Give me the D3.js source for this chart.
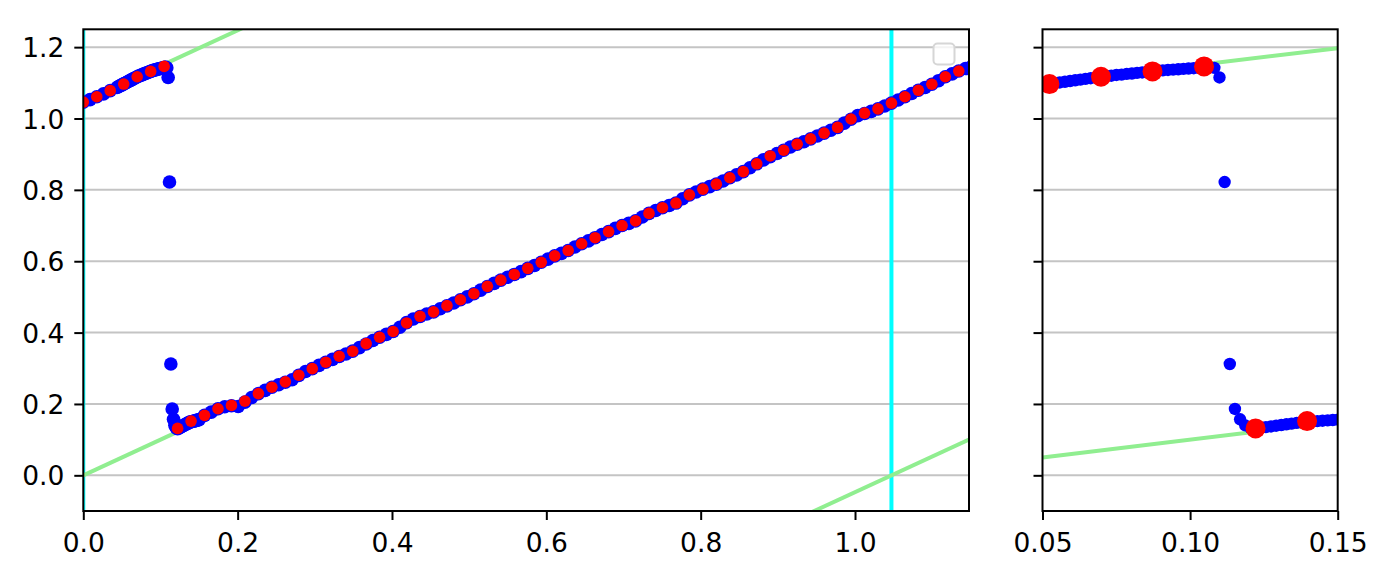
<!DOCTYPE html>
<html><head><meta charset="utf-8">
<script src="https://cdn.jsdelivr.net/npm/d3@7"></script>
<style>body{margin:0;background:#fff}svg{display:block}text{font-family:"DejaVu Sans",sans-serif}</style>
</head><body><svg id="c" width="1389" height="578"></svg>
<script>
// ---- data (x in degrees, converted to radians for plotting) ----
const redDeg = d3.range(0, 66, 1);
const redY = [1.046,1.061,1.078,1.0965,1.117,1.132,1.146,0.1315,0.152,0.168,0.1865,0.196,0.208,0.229,0.247,0.262,0.2806,0.299,0.317,0.3337,0.3477,0.369,0.387,0.403,0.427,0.4456,0.458,0.4755,0.492,0.509,0.5296,0.547,0.563,0.580,0.597,0.615,0.630,0.649,0.666,0.683,0.700,0.713,0.734,0.750,0.763,0.786,0.802,0.816,0.834,0.851,0.873,0.895,0.911,0.928,0.943,0.959,0.975,0.9986,1.015,1.027,1.043,1.061,1.079,1.096,1.117,1.133];

const blueDegA = d3.range(0, 2.55, 0.5);
const blueYA = [1.046,1.053,1.061,1.069,1.078,1.087];
const blueDegB = d3.range(26, 87, 1).map(d => d / 10);
const blueYB = [1.089,1.091,1.093,1.095,1.097,1.099,1.101,1.103,1.105,1.107,1.109,1.111,1.113,1.115,1.117,1.119,1.120,1.122,1.123,1.125,1.126,1.128,1.129,1.131,1.132,1.134,1.135,1.136,1.137,1.138,1.139,1.140,1.141,1.142,1.143,1.144,1.142,1.115,0.822,0.312,0.186,0.157,0.140,0.133,0.131,0.133,0.135,0.137,0.139,0.141,0.143,0.145,0.147,0.149,0.150,0.151,0.152,0.153,0.154,0.155,0.156];
const blueDegC = d3.range(18, 133, 1).map(d => d / 2);
const blueYC = [0.168,0.177,0.1865,0.192,0.195,0.193,0.205,0.218,0.229,0.238,0.247,0.254,0.261,0.268,0.280,0.291,0.299,0.308,0.317,0.325,0.333,0.340,0.348,0.358,0.368,0.378,0.387,0.395,0.403,0.415,0.428,0.438,0.445,0.452,0.458,0.467,0.475,0.483,0.492,0.500,0.509,0.519,0.529,0.538,0.547,0.555,0.563,0.571,0.580,0.588,0.597,0.606,0.615,0.622,0.630,0.640,0.649,0.657,0.666,0.675,0.683,0.692,0.700,0.706,0.713,0.724,0.734,0.742,0.750,0.756,0.763,0.775,0.786,0.794,0.802,0.809,0.816,0.825,0.834,0.842,0.851,0.862,0.873,0.884,0.893,0.902,0.911,0.920,0.928,0.935,0.943,0.951,0.959,0.967,0.975,0.987,0.998,1.008,1.014,1.020,1.027,1.035,1.043,1.052,1.061,1.070,1.079,1.087,1.096,1.106,1.117,1.125,1.133,1.140,1.147];

const guideOffsets = [-Math.PI / 3, 0, Math.PI / 3];   // lines y = x + offset
const vLines = [0, Math.PI / 3];
const yTicks = [0.0, 0.2, 0.4, 0.6, 0.8, 1.0, 1.2];
const xTicksL = [0.0, 0.2, 0.4, 0.6, 0.8, 1.0];
const xTicksR = [0.05, 0.10, 0.15];

const rad = d => d * Math.PI / 180;
const red = redDeg.map((d, i) => [rad(d), redY[i]]);
const blue = [].concat(
  blueDegA.map((d, i) => [rad(d), blueYA[i]]),
  blueDegB.map((d, i) => [rad(d), blueYB[i]]),
  blueDegC.map((d, i) => [rad(d), blueYC[i]])
);

// ---- layout ----
const svg = d3.select("#c");
const y = d3.scaleLinear().domain([-0.1, 1.25]).range([511, 29.3]);
const FS = 26.5;

function panel(id, xDomain, xRange, xTicks, fmt, showYLabels, redR, blueR) {
  const x = d3.scaleLinear().domain(xDomain).range(xRange);
  const [x0, x1] = xRange, [y0, y1] = [y.range()[1], y.range()[0]];
  svg.append("clipPath").attr("id", id).append("rect")
    .attr("x", x0).attr("y", y0).attr("width", x1 - x0).attr("height", y1 - y0);
  const g = svg.append("g");
  const p = g.append("g").attr("clip-path", `url(#${id})`);
  // grid
  p.selectAll(".gr").data(yTicks).join("line")
    .attr("x1", x0).attr("x2", x1).attr("y1", d => y(d)).attr("y2", d => y(d))
    .attr("stroke", "#c4c4c4").attr("stroke-width", 2);
  // vertical cyan
  p.selectAll(".vl").data(vLines).join("line")
    .attr("x1", d => x(d)).attr("x2", d => x(d)).attr("y1", y0).attr("y2", y1)
    .attr("stroke", "#00ffff").attr("stroke-width", 4);
  // green guides
  p.selectAll(".gl").data(guideOffsets).join("line")
    .attr("x1", x(xDomain[0])).attr("y1", d => y(xDomain[0] + d))
    .attr("x2", x(xDomain[1])).attr("y2", d => y(xDomain[1] + d))
    .attr("stroke", "#90ee90").attr("stroke-width", 4);
  // blue
  p.selectAll(".b").data(blue).join("circle")
    .attr("cx", d => x(d[0])).attr("cy", d => y(d[1])).attr("r", blueR).attr("fill", "#0000ff");
  // red
  p.selectAll(".r").data(red).join("circle")
    .attr("cx", d => x(d[0])).attr("cy", d => y(d[1])).attr("r", redR).attr("fill", "#ff0000");
  // axes
  const ax = g.append("g").attr("transform", `translate(0,${y1})`)
    .call(d3.axisBottom(x).tickValues(xTicks).tickFormat(fmt).tickSize(9).tickPadding(15));
  ax.select(".domain").remove();
  ax.selectAll(".tick line").attr("stroke", "#000").attr("stroke-width", 2);
  ax.selectAll(".tick text").attr("font-size", FS).attr("fill", "#000")
    .attr("dy", null).attr("y", 40.5);
  const ay = g.append("g").attr("transform", `translate(${x0},0)`)
    .call(d3.axisLeft(y).tickValues(yTicks).tickFormat(d3.format(".1f")).tickSize(9).tickPadding(10));
  ay.select(".domain").remove();
  ay.selectAll(".tick line").attr("stroke", "#000").attr("stroke-width", 2);
  ay.selectAll(".tick text").attr("font-size", FS).attr("fill", "#000").attr("dy", "0.36em");
  if (!showYLabels) ay.selectAll(".tick text").remove();
  // frame
  g.append("rect").attr("x", x0).attr("y", y0).attr("width", x1 - x0).attr("height", y1 - y0)
    .attr("fill", "none").attr("stroke", "#000").attr("stroke-width", 2);
  return g;
}

const gl = panel("clipL", [0, 1.1477], [83.3, 969], xTicksL, d3.format(".1f"), true, 5.8, 6.8);
panel("clipR", [0.05, 0.15], [1042.5, 1337.7], xTicksR, d3.format(".2f"), false, 10, 6.2);

// empty legend box
gl.append("rect").attr("x", 933.5).attr("y", 43.5).attr("width", 21).attr("height", 21)
  .attr("rx", 4).attr("fill", "#fff").attr("fill-opacity", 0.8)
  .attr("stroke", "#d6d6d6").attr("stroke-width", 2);
</script></body></html>
